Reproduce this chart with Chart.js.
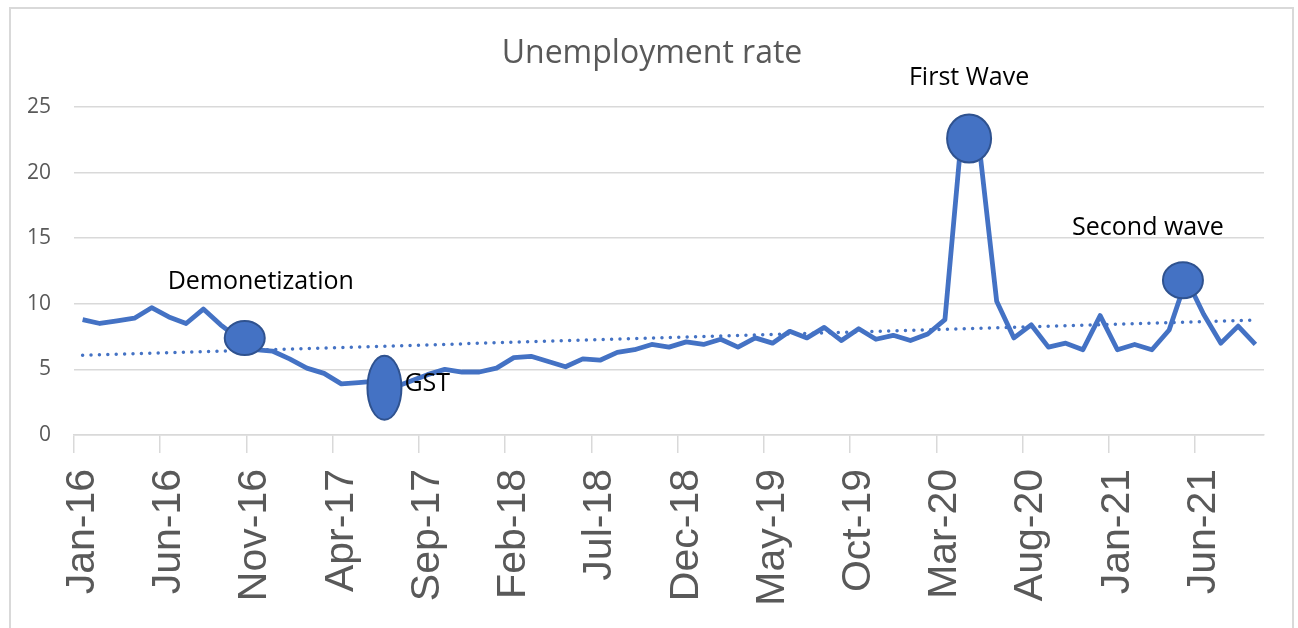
<!DOCTYPE html>
<html>
<head>
<meta charset="utf-8">
<script src="https://cdn.jsdelivr.net/npm/chart.js@4/dist/chart.umd.min.js"></script>
<style>
  body { margin: 0; background: #fff; overflow: hidden; }
  #wrap { position: relative; width: 1298px; height: 628px; }
  #frame { position: absolute; left: 9px; top: 7px; width: 1285px; height: 640px; border: 2px solid #d9d9d9; box-sizing: border-box; }
  canvas { position: absolute; left: 0; top: 0; }
</style>
</head>
<body>
<div id="wrap">
  <div id="frame"></div>
  <canvas id="unemployment" width="1298" height="628"></canvas>
</div>
<script>
// monthly categories, Jan-16 .. Sep-21
const months = [
  'Jan-16','Feb-16','Mar-16','Apr-16','May-16','Jun-16','Jul-16','Aug-16','Sep-16','Oct-16','Nov-16','Dec-16',
  'Jan-17','Feb-17','Mar-17','Apr-17','May-17','Jun-17','Jul-17','Aug-17','Sep-17','Oct-17','Nov-17','Dec-17',
  'Jan-18','Feb-18','Mar-18','Apr-18','May-18','Jun-18','Jul-18','Aug-18','Sep-18','Oct-18','Nov-18','Dec-18',
  'Jan-19','Feb-19','Mar-19','Apr-19','May-19','Jun-19','Jul-19','Aug-19','Sep-19','Oct-19','Nov-19','Dec-19',
  'Jan-20','Feb-20','Mar-20','Apr-20','May-20','Jun-20','Jul-20','Aug-20','Sep-20','Oct-20','Nov-20','Dec-20',
  'Jan-21','Feb-21','Mar-21','Apr-21','May-21','Jun-21','Jul-21','Aug-21','Sep-21'
];

// unemployment rate (%)
const unemploymentRate = [
  8.8, 8.5, 8.7, 8.9, 9.7, 9.0, 8.5, 9.6, 8.4, 7.4, 6.5, 6.4,
  5.8, 5.1, 4.7, 3.9, 4.0, 4.1, 3.6, 4.1, 4.6, 5.0, 4.8, 4.8,
  5.1, 5.9, 6.0, 5.6, 5.2, 5.8, 5.7, 6.3, 6.5, 6.9, 6.7, 7.1,
  6.9, 7.3, 6.7, 7.4, 7.0, 7.9, 7.4, 8.2, 7.2, 8.1, 7.3, 7.6,
  7.2, 7.7, 8.8, 23.4, 21.9, 10.2, 7.4, 8.4, 6.7, 7.0, 6.5, 9.1,
  6.5, 6.9, 6.5, 8.0, 11.9, 9.2, 7.0, 8.3, 6.9
];

const yTicks = [0, 5, 10, 15, 20, 25];

// marked events
const eventNames = ['Demonetization', 'GST', 'First Wave', 'Second wave'];
const eventIndex = [9.4, 17.5, 51.4, 63.8];
const eventValue = [7.4, 3.6, 22.6, 11.8];

// linear trendline (least squares, like Excel's)
const n = unemploymentRate.length;
let sx = 0, sy = 0, sxy = 0, sxx = 0;
unemploymentRate.forEach((v, i) => { sx += i; sy += v; sxy += i * v; sxx += i * i; });
const slope = (n * sxy - sx * sy) / (n * sxx - sx * sx);
const intercept = (sy - slope * sx) / n;
const trend = unemploymentRate.map((v, i) => intercept + slope * i);

// ellipse size + label placement, in pixels
const eventStyle = [
  { rx: 20, ry: 17, dx: 16, dy: -56, align: 'center' },
  { rx: 17, ry: 32, dx: 20, dy: -4, align: 'left' },
  { rx: 22, ry: 24, dx: 0, dy: -61, align: 'center' },
  { rx: 20, ry: 18, dx: -35, dy: -52, align: 'center' }
];

const eventPlugin = {
  id: 'events',
  afterDatasetsDraw(chart) {
    const ctx = chart.ctx;
    const xs = chart.scales.x, ys = chart.scales.y;
    ctx.save();
    eventNames.forEach((name, k) => {
      const st = eventStyle[k];
      const cx = xs.getPixelForValue(eventIndex[k]);
      const cy = ys.getPixelForValue(eventValue[k]);
      ctx.beginPath();
      ctx.ellipse(cx, cy, st.rx, st.ry, 0, 0, Math.PI * 2);
      ctx.fillStyle = '#4472c4';
      ctx.fill();
      ctx.lineWidth = 2;
      ctx.strokeStyle = '#2f528f';
      ctx.stroke();
      ctx.fillStyle = '#000';
      ctx.font = '25px "Open Sans"';
      ctx.textAlign = st.align;
      ctx.textBaseline = 'middle';
      ctx.fillText(name, cx + st.dx, cy + st.dy);
    });
    ctx.restore();
  }
};

const config = {
  type: 'line',
  data: {
    labels: months,
    datasets: [
      {
        label: 'Unemployment rate',
        data: unemploymentRate,
        borderColor: '#4472c4',
        borderWidth: 4.8,
        pointRadius: 0,
        tension: 0,
        borderJoinStyle: 'round'
      },
      {
        label: 'Linear trend',
        data: trend,
        borderColor: '#4472c4',
        borderWidth: 3.5,
        borderDash: [0, 8.4],
        borderCapStyle: 'round',
        pointRadius: 0
      }
    ]
  },
  options: {
    responsive: false,
    animation: false,
    events: [],
    layout: { padding: { left: 20, right: 14, top: 0, bottom: 0 } },
    plugins: {
      legend: { display: false },
      tooltip: { enabled: false },
      title: {
        display: true,
        text: 'Unemployment rate',
        color: '#595959',
        font: { family: '"Open Sans"', size: 32, weight: 'normal', lineHeight: 1.2 },
        padding: { top: 35, bottom: 33.6 }
      }
    },
    scales: {
      x: {
        offset: true,
        afterFit: (s) => { s.height = 193; s.paddingLeft = 0; s.paddingRight = 34; },
        border: { color: '#d9d9d9', width: 1.5 },
        grid: {
          offset: true,
          drawOnChartArea: false,
          drawTicks: true,
          tickLength: 18,
          lineWidth: 1.5,
          color: (c) => (c.index % 5 === 0 ? '#d9d9d9' : 'rgba(0,0,0,0)')
        },
        ticks: {
          autoSkip: false,
          minRotation: 90,
          maxRotation: 90,
          padding: 16,
          color: '#595959',
          font: { family: '"Liberation Sans"', size: 41 },
          callback: (val, i) => (i % 5 === 0 ? months[i] : '')
        }
      },
      y: {
        min: 0,
        max: 25,
        afterFit: (s) => { s.width = 54; },
        afterBuildTicks: (s) => { s.ticks = yTicks.map(v => ({ value: v })); },
        border: { display: false },
        grid: { color: '#d9d9d9', lineWidth: 1.5, drawTicks: false },
        ticks: {
          padding: 23,
          color: '#595959',
          font: { family: '"Open Sans"', size: 21 }
        }
      }
    }
  },
  plugins: [eventPlugin]
};

const unemploymentChart = new Chart(document.getElementById('unemployment'), config);
</script>
</body>
</html>
